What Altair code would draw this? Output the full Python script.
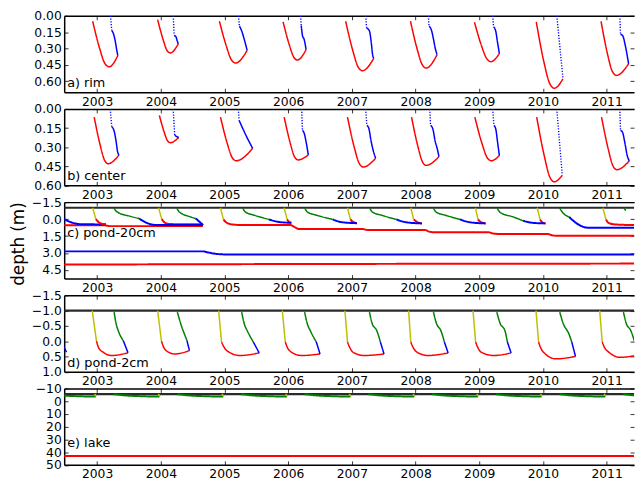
import altair as alt
import pandas as pd

YEARS = [2003, 2004, 2005, 2006, 2007, 2008, 2009, 2010, 2011]
X_DOMAIN = [2002.483, 2011.43]

# ---------- panel a) rim : (offset from Jan 1 [yr], depth [m]) ----------
A_RED = {
    2003: [(-0.07, 0.05), (0.04, 0.30), (0.125, 0.44), (0.19, 0.467), (0.325, 0.365)],
    2004: [(-0.05, 0.035), (0.036, 0.218), (0.10, 0.32), (0.15, 0.34), (0.275, 0.256)],
    2005: [(-0.08, 0.05), (0.03, 0.28), (0.11, 0.405), (0.175, 0.432), (0.356, 0.317)],
    2006: [(-0.08, 0.056), (0.017, 0.265), (0.089, 0.38), (0.145, 0.405), (0.281, 0.31)],
    2007: [(-0.098, 0.05), (0.016, 0.322), (0.10, 0.471), (0.166, 0.503), (0.344, 0.39)],
    2008: [(-0.08, 0.05), (0.026, 0.307), (0.105, 0.449), (0.166, 0.479), (0.339, 0.355)],
    2009: [(-0.075, 0.059), (0.036, 0.276), (0.12, 0.395), (0.184, 0.42), (0.316, 0.346)],
    2010: [(-0.105, 0.055), (0.014, 0.42), (0.106, 0.62), (0.178, 0.664), (0.315, 0.577)],
    2011: [(-0.088, 0.05), (0.012, 0.346), (0.09, 0.51), (0.155, 0.546), (0.345, 0.44)],
}
A_BLUE_DOT = {
    2003: [(0.21, 0.0), (0.23, 0.135)],
    2004: [(0.195, 0.0), (0.21, 0.18)],
    2005: [(0.218, 0.0), (0.235, 0.095)],
    2006: [(0.195, 0.0), (0.205, 0.09)],
    2007: [(0.218, 0.0), (0.23, 0.11)],
    2008: [(0.20, 0.0), (0.212, 0.095)],
    2009: [(0.212, 0.0), (0.224, 0.10)],
    2010: [(0.218, 0.0), (0.315, 0.577)],
    2011: [(0.207, 0.0), (0.218, 0.169)],
}
A_BLUE = {
    2003: [(0.23, 0.135), (0.26, 0.17), (0.29, 0.25), (0.31, 0.32), (0.325, 0.365)],
    2004: [(0.21, 0.18), (0.24, 0.195), (0.255, 0.225), (0.275, 0.256)],
    2005: [(0.235, 0.095), (0.27, 0.139), (0.316, 0.228), (0.356, 0.317)],
    2006: [(0.205, 0.09), (0.225, 0.183), (0.25, 0.215), (0.281, 0.31)],
    2007: [(0.23, 0.11), (0.276, 0.139), (0.304, 0.243), (0.327, 0.361), (0.344, 0.39)],
    2008: [(0.212, 0.095), (0.253, 0.139), (0.281, 0.213), (0.31, 0.30), (0.339, 0.355)],
    2009: [(0.224, 0.10), (0.258, 0.139), (0.287, 0.243), (0.316, 0.346)],
    2010: [],
    2011: [(0.218, 0.169), (0.253, 0.183), (0.293, 0.272), (0.345, 0.44)],
}

# ---------- panel b) center ----------
B_RED = {
    2003: [(-0.046, 0.064), (0.048, 0.284), (0.118, 0.404), (0.172, 0.43), (0.344, 0.361)],
    2004: [(-0.023, 0.05), (0.051, 0.179), (0.106, 0.25), (0.149, 0.265), (0.281, 0.224)],
    2005: [(-0.063, 0.064), (0.043, 0.27), (0.122, 0.383), (0.184, 0.407), (0.442, 0.309)],
    2006: [(-0.063, 0.064), (0.031, 0.266), (0.10, 0.376), (0.155, 0.40), (0.316, 0.361)],
    2007: [(-0.069, 0.064), (0.037, 0.30), (0.116, 0.428), (0.178, 0.456), (0.373, 0.387)],
    2008: [(-0.063, 0.064), (0.035, 0.291), (0.109, 0.416), (0.166, 0.443), (0.367, 0.374)],
    2009: [(-0.069, 0.064), (0.042, 0.27), (0.125, 0.383), (0.189, 0.407), (0.316, 0.366)],
    2010: [(-0.098, 0.064), (0.021, 0.369), (0.109, 0.536), (0.178, 0.572), (0.304, 0.521)],
    2011: [(-0.08, 0.064), (0.024, 0.312), (0.10, 0.448), (0.161, 0.477), (0.356, 0.407)],
}
B_BLUE_DOT = {
    2003: [(0.207, 0.0), (0.23, 0.14)],
    2004: [(0.195, 0.0), (0.218, 0.206)],
    2005: [(0.218, 0.0), (0.23, 0.09)],
    2006: [(0.212, 0.0), (0.224, 0.168)],
    2007: [(0.218, 0.0), (0.235, 0.129)],
    2008: [(0.224, 0.0), (0.235, 0.129)],
    2009: [(0.212, 0.0), (0.23, 0.129)],
    2010: [(0.218, 0.0), (0.304, 0.521)],
    2011: [(0.207, 0.0), (0.218, 0.168)],
}
B_BLUE = {
    2003: [(0.23, 0.14), (0.264, 0.168), (0.299, 0.258), (0.321, 0.335), (0.344, 0.361)],
    2004: [(0.218, 0.206), (0.245, 0.215), (0.281, 0.224)],
    2005: [(0.23, 0.09), (0.33, 0.20), (0.442, 0.309)],
    2006: [(0.224, 0.168), (0.253, 0.193), (0.281, 0.258), (0.316, 0.361)],
    2007: [(0.235, 0.129), (0.264, 0.149), (0.304, 0.258), (0.333, 0.322), (0.373, 0.387)],
    2008: [(0.235, 0.129), (0.27, 0.155), (0.31, 0.258), (0.339, 0.309), (0.367, 0.374)],
    2009: [(0.23, 0.129), (0.258, 0.155), (0.287, 0.258), (0.316, 0.366)],
    2010: [],
    2011: [(0.218, 0.168), (0.247, 0.18), (0.293, 0.284), (0.321, 0.361), (0.356, 0.407)],
}

# ---------- panel c) pond-20cm ----------
C_SURFACE = [(2002.3, -1.0), (2011.6, -1.0)]
C_BLUE_LONG = [(2002.3, 2.85), (2004.66, 2.85), (2004.75, 2.95), (2004.88, 3.08), (2005.1, 3.13), (2011.6, 3.13)]
C_RED_DEEP = [(2002.3, 4.02), (2006.0, 3.97), (2011.6, 3.93)]
C_RED_EARLY = [(2002.3, 0.55), (2003.12, 0.55), (2003.2, 0.62), (2004.66, 0.62)]
C_BLUE_2002 = [(2002.45, -0.1), (2002.6, 0.3), (2002.75, 0.45), (2003.14, 0.47)]
C_RED_LONG = [
    (2004.983, 0.03), (2005.03, 0.30), (2005.12, 0.47), (2005.3, 0.53), (2006.04, 0.53),
    (2006.10, 0.70), (2006.17, 0.87), (2007.17, 0.87), (2007.21, 0.93), (2007.26, 0.96),
    (2008.15, 0.96), (2008.20, 1.08), (2008.28, 1.16), (2009.15, 1.16), (2009.20, 1.25),
    (2009.30, 1.31), (2010.07, 1.31), (2010.14, 1.42), (2010.22, 1.48), (2011.6, 1.48),
]
C_YEL = {
    2003: [(-0.07, -1.0), (-0.02, 0.0)],
    2004: [(-0.035, -1.0), (0.015, 0.0)],
    2005: [(-0.063, -1.0), (-0.017, 0.03)],
    2006: [(-0.063, -1.0), (-0.017, 0.03)],
    2007: [(-0.069, -1.0), (-0.023, 0.03)],
    2008: [(-0.075, -1.0), (-0.029, 0.03)],
    2009: [(-0.06, -1.0), (-0.02, 0.03)],
    2010: [(-0.09, -1.0), (-0.045, 0.03)],
    2011: [(-0.06, -1.0), (-0.01, 0.03)],
}
C_RED = {
    2003: [(-0.02, 0.0), (0.03, 0.3), (0.08, 0.42), (0.14, 0.45)],
    2004: [(0.015, 0.0), (0.06, 0.3), (0.13, 0.43), (0.3, 0.45), (0.66, 0.45)],
    2006: [(-0.017, 0.03), (0.01, 0.22), (0.05, 0.33)],
    2007: [(-0.023, 0.03), (0.01, 0.22), (0.08, 0.36)],
    2008: [(-0.029, 0.03), (0.02, 0.24), (0.10, 0.38)],
    2009: [(-0.02, 0.03), (0.02, 0.24), (0.10, 0.38)],
    2010: [(-0.045, 0.03), (0.0, 0.33), (0.04, 0.38)],
    2011: [(-0.01, 0.03), (0.03, 0.33), (0.13, 0.47), (0.44, 0.53)],
}
C_GREEN = {
    2003: [(0.26, -1.0), (0.315, -0.63), (0.52, -0.25), (0.66, -0.05)],
    2004: [(0.25, -1.0), (0.29, -0.63), (0.465, -0.2), (0.55, -0.05)],
    2005: [(0.285, -1.0), (0.327, -0.63), (0.47, -0.34), (0.70, 0.03)],
    2006: [(0.26, -1.0), (0.30, -0.63), (0.45, -0.34), (0.70, 0.03)],
    2007: [(0.28, -1.0), (0.32, -0.63), (0.47, -0.34), (0.70, 0.03)],
    2008: [(0.28, -1.0), (0.32, -0.63), (0.47, -0.34), (0.70, 0.03)],
    2009: [(0.28, -1.0), (0.33, -0.58), (0.53, -0.2), (0.69, 0.15)],
    2010: [(0.26, -1.0), (0.31, -0.58), (0.41, -0.2)],
    2011: [(0.27, -1.0), (0.30, -0.75)],
}
C_BLUE = {
    2003: [(0.66, -0.05), (0.80, 0.38), (0.92, 0.52), (1.66, 0.53)],
    2004: [(0.55, -0.05), (0.62, 0.30), (0.666, 0.53)],
    2005: [(0.70, 0.03), (0.84, 0.24), (1.05, 0.33)],
    2006: [(0.70, 0.03), (0.85, 0.28), (1.08, 0.36)],
    2007: [(0.70, 0.03), (0.85, 0.28), (1.10, 0.38)],
    2008: [(0.70, 0.03), (0.85, 0.28), (1.10, 0.38)],
    2009: [(0.69, 0.15), (0.84, 0.33), (1.04, 0.38)],
    2010: [(0.41, -0.2), (0.53, 0.38), (0.71, 0.76), (1.5, 0.76)],
}

# ---------- panel d) pond-2cm ----------
D_YEL = {
    2003: [(-0.077, -1.0), (-0.01, 0.0)],
    2004: [(-0.05, -1.0), (0.01, 0.0)],
    2005: [(-0.092, -1.0), (-0.046, 0.03)],
    2006: [(-0.092, -1.0), (-0.046, 0.03)],
    2007: [(-0.109, -1.0), (-0.069, 0.03)],
    2008: [(-0.109, -1.0), (-0.075, 0.03)],
    2009: [(-0.098, -1.0), (-0.057, 0.03)],
    2010: [(-0.109, -1.0), (-0.069, 0.03)],
    2011: [(-0.109, -1.0), (-0.069, 0.03)],
}
D_RED = {
    2003: [(-0.01, 0.0), (0.025, 0.22), (0.10, 0.37), (0.23, 0.47), (0.485, 0.38)],
    2004: [(0.01, 0.0), (0.05, 0.22), (0.13, 0.37), (0.22, 0.42), (0.45, 0.31)],
    2005: [(-0.046, 0.03), (0.0, 0.22), (0.069, 0.36), (0.241, 0.47), (0.545, 0.386)],
    2006: [(-0.046, 0.03), (-0.01, 0.22), (0.05, 0.36), (0.212, 0.47), (0.50, 0.42)],
    2007: [(-0.069, 0.03), (-0.03, 0.22), (0.017, 0.36), (0.19, 0.47), (0.505, 0.42)],
    2008: [(-0.075, 0.03), (-0.035, 0.22), (0.023, 0.36), (0.195, 0.47), (0.511, 0.386)],
    2009: [(-0.057, 0.03), (-0.02, 0.22), (0.029, 0.36), (0.23, 0.47), (0.50, 0.386)],
    2010: [(-0.069, 0.03), (-0.035, 0.22), (0.006, 0.36), (0.207, 0.58), (0.511, 0.50)],
    2011: [(-0.069, 0.03), (-0.03, 0.22), (0.034, 0.36), (0.207, 0.53), (0.50, 0.45)],
}
D_GREEN = {
    2003: [(0.267, -0.95), (0.298, -0.57), (0.33, -0.35), (0.41, -0.02)],
    2004: [(0.26, -0.95), (0.33, -0.46), (0.39, -0.13), (0.41, -0.02)],
    2005: [(0.27, -0.95), (0.31, -0.57), (0.36, -0.33), (0.453, 0.03)],
    2006: [(0.258, -0.95), (0.30, -0.57), (0.35, -0.33), (0.442, 0.03)],
    2007: [(0.276, -0.95), (0.32, -0.57), (0.39, -0.35), (0.448, 0.03)],
    2008: [(0.281, -0.95), (0.33, -0.57), (0.396, -0.35), (0.453, 0.03)],
    2009: [(0.276, -0.95), (0.33, -0.57), (0.402, -0.35), (0.442, 0.03)],
    2010: [(0.264, -0.95), (0.32, -0.57), (0.407, -0.24), (0.453, 0.03)],
    2011: [(0.264, -0.95), (0.31, -0.57), (0.379, -0.35), (0.44, 0.03)],
}
D_BLUE = {
    2002: [(0.44, 0.03), (0.52, 0.36)],
    2003: [(0.41, -0.02), (0.485, 0.38)],
    2004: [(0.41, -0.02), (0.45, 0.31)],
    2005: [(0.453, 0.03), (0.545, 0.386)],
    2006: [(0.442, 0.03), (0.50, 0.42)],
    2007: [(0.448, 0.03), (0.505, 0.42)],
    2008: [(0.453, 0.03), (0.511, 0.386)],
    2009: [(0.442, 0.03), (0.50, 0.386)],
    2010: [(0.453, 0.03), (0.511, 0.50)],
    2011: [(0.44, 0.03), (0.50, 0.45)],
}

# ---------- panel e) lake ----------
E_SURFACE = [(2002.3, -5.6), (2011.6, -5.6)]
E_RED = [(2002.3, 43.0), (2011.6, 43.0)]
E_GREEN = [(0.26, -5.5), (0.45, -4.5), (0.7, -3.9), (0.98, -3.6)]
E_YEL = [(-0.04, -5.6), (-0.01, -3.8)]

RED, BLUE, GREEN, YEL, DARK = "#ff0000", "#0000ff", "#008000", "#bfbf00", "#2a2a2a"


def add(rows, seg, pts, color, dash="solid", width=1.5, base=0.0):
    for i, (dx, d) in enumerate(pts):
        rows.append(dict(seg=seg, i=i, x=base + dx, y=d, c=color, dash=dash, w=width))


def yearly(rows, tag, table, color, dash="solid", width=1.5):
    for yr, pts in table.items():
        if pts:
            add(rows, f"{tag}{yr}", pts, color, dash, width, base=yr)


rows_a = []
yearly(rows_a, "ar", A_RED, RED)
yearly(rows_a, "abd", A_BLUE_DOT, BLUE, "dot", 1.4)
yearly(rows_a, "ab", A_BLUE, BLUE)

rows_b = []
yearly(rows_b, "br", B_RED, RED)
yearly(rows_b, "bbd", B_BLUE_DOT, BLUE, "dot", 1.4)
yearly(rows_b, "bb", B_BLUE, BLUE)

rows_c = []
add(rows_c, "cs", C_SURFACE, DARK, width=2.2)
add(rows_c, "cbl", C_BLUE_LONG, BLUE, width=2.0)
add(rows_c, "crd", C_RED_DEEP, RED, width=2.0)
add(rows_c, "cre", C_RED_EARLY, RED, width=2.0)
add(rows_c, "crl", C_RED_LONG, RED, width=2.0)
add(rows_c, "cb02", C_BLUE_2002, BLUE, width=2.0)
yearly(rows_c, "cy", C_YEL, YEL)
yearly(rows_c, "cr", C_RED, RED, width=2.0)
yearly(rows_c, "cg", C_GREEN, GREEN)
yearly(rows_c, "cb", C_BLUE, BLUE, width=2.0)

rows_d = []
add(rows_d, "ds", [(2002.3, -1.0), (2011.6, -1.0)], DARK, width=2.2)
yearly(rows_d, "dy", D_YEL, YEL)
yearly(rows_d, "dr", D_RED, RED)
yearly(rows_d, "dg", D_GREEN, GREEN)
yearly(rows_d, "db", D_BLUE, BLUE)

rows_e = []
add(rows_e, "es", E_SURFACE, DARK, width=2.2)
add(rows_e, "er", E_RED, RED, width=2.0)
for yr in [2002] + YEARS:
    add(rows_e, f"eg{yr}", E_GREEN, GREEN, width=2.0, base=yr)
    add(rows_e, f"ey{yr}", E_YEL, YEL, width=1.5, base=yr)

FONT = "DejaVu Sans"
W, H = 578, 77.5

LABEL = dict(labelFont=FONT, labelFontSize=12.5, labelColor="black", labelPadding=3,
             title=None, grid=False)


def panel(rows, ydom, yvals, yfmt, label, label_y, ytitle=None):
    df = pd.DataFrame(rows)
    xs = alt.Scale(domain=X_DOMAIN, nice=False, zero=False)
    ys = alt.Scale(domain=ydom, reverse=True, nice=False, zero=False)

    yaxis_main = dict(orient="left", values=yvals, format=yfmt, ticks=False,
                      domain=True, domainColor="black", domainWidth=1.5, **LABEL)
    if ytitle:
        yaxis_main.update(title=ytitle, titleFont=FONT, titleFontSize=17,
                          titleFontWeight="normal", titleColor="black",
                          titleX=-37, titleY=42, titleAngle=270,
                          titleAlign="center", titleBaseline="bottom")
    lines = alt.Chart(df).mark_line(clip=True, interpolate="monotone").encode(
        x=alt.X("x:Q", scale=xs, axis=alt.Axis(orient="bottom", values=YEARS, format="d",
                                               ticks=False, domain=True, domainColor="black",
                                               domainWidth=1.5, **LABEL)),
        y=alt.Y("y:Q", scale=ys, axis=alt.Axis(**yaxis_main)),
        detail="seg:N",
        order="i:Q",
        color=alt.Color("c:N", scale=None),
        strokeDash=alt.StrokeDash("dash:N", scale=alt.Scale(domain=["solid", "dot"],
                                                            range=[[1, 0], [1.2, 1.6]]),
                                  legend=None),
        strokeWidth=alt.StrokeWidth("w:Q", scale=None),
    )

    fdf = pd.DataFrame({"x": [X_DOMAIN[0]], "y": [ydom[0]]})
    tick = dict(labels=False, domain=False, ticks=True, tickSize=4, offset=-4,
                tickColor="black", tickWidth=0.8, title=None, grid=False)

    f1 = alt.Chart(fdf).mark_point(opacity=0).encode(
        x=alt.X("x:Q", scale=xs, axis=alt.Axis(orient="top", labels=False, ticks=False,
                                               domain=True, domainColor="black",
                                               domainWidth=1.5, title=None, grid=False)),
        y=alt.Y("y:Q", scale=ys, axis=alt.Axis(orient="right", values=yvals, **tick)),
    )
    f2 = alt.Chart(fdf).mark_point(opacity=0).encode(
        x=alt.X("x:Q", scale=xs, axis=alt.Axis(orient="top", values=YEARS, **tick)),
        y=alt.Y("y:Q", scale=ys, axis=alt.Axis(orient="left", values=yvals, **tick)),
    )
    f3 = alt.Chart(fdf).mark_point(opacity=0).encode(
        x=alt.X("x:Q", scale=xs, axis=alt.Axis(orient="bottom", values=YEARS, **tick)),
        y=alt.Y("y:Q", scale=ys, axis=None),
    )
    txt = alt.Chart(pd.DataFrame({"t": [label]})).mark_text(
        align="left", baseline="alphabetic", font=FONT, fontSize=13, color="black"
    ).encode(x=alt.value(3), y=alt.value(label_y), text="t:N")

    return alt.layer(lines, f1, f2, f3, txt).resolve_axis(
        x="independent", y="independent").properties(width=W, height=H)


pa = panel(rows_a, [0, 0.7], [0, 0.15, 0.3, 0.45, 0.6], ".2f", "a) rim", 72)
pb = panel(rows_b, [0, 0.6], [0, 0.15, 0.3, 0.45, 0.6], ".2f", "b) center", 72)
pc = panel(rows_c, [-1.5, 5.25], [-1.5, 0, 1.5, 3.0, 4.5], ".1f", "c) pond-20cm", 35,
           ytitle="depth (m)")
pd_ = panel(rows_d, [-1.5, 1.0], [-1.5, -1.0, -0.5, 0, 0.5, 1.0], ".1f", "d) pond-2cm", 73)
pe = panel(rows_e, [-10, 50], [-10, 0, 10, 20, 30, 40, 50], "d", "e) lake", 59)

chart = alt.vconcat(pa, pb, pc, pd_, pe, spacing=16.5, bounds="flush").configure_view(
    stroke=None
).properties(padding={"left": 2, "top": -1.5, "right": 0, "bottom": 0}, background="white")

chart.save("out.html", embed_options={"renderer": "svg", "actions": False})
